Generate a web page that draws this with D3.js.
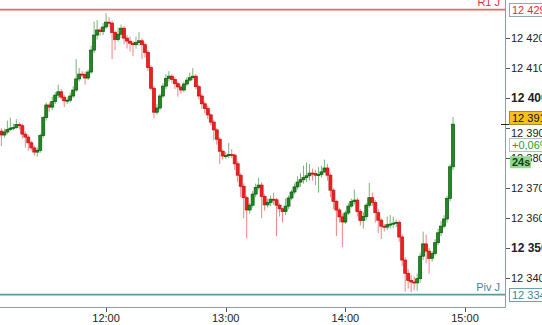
<!DOCTYPE html>
<html>
<head>
<meta charset="utf-8">
<script src="https://cdn.jsdelivr.net/npm/d3@7"></script>
<style>
  body { margin: 0; background: #fff; }
  svg { display: block; font-family: "Liberation Sans", Arial, sans-serif; font-size: 11px; }
</style>
</head>
<body>
<div id="chart"></div>
<script>
// candles, one every 90 seconds starting 11:07:30
var firstCandle = new Date(2020, 0, 1, 11, 7, 30);
var candleSeconds = 90;

var opens = [12389.0, 12387.7, 12388.7, 12389.5, 12390.0, 12390.2, 12391.2, 12390.8, 12388.0, 12387.0,
  12385.1, 12383.4, 12382.0, 12382.6, 12387.5, 12393.5, 12397.7, 12397.0, 12398.9, 12401.0,
  12402.1, 12400.3, 12399.1, 12399.3, 12400.7, 12402.7, 12406.4, 12408.0, 12407.9, 12406.7,
  12408.7, 12416.0, 12421.0, 12422.7, 12422.2, 12423.7, 12425.3, 12425.0, 12421.9, 12419.5,
  12421.3, 12423.3, 12420.0, 12419.0, 12418.3, 12417.8, 12418.5, 12419.1, 12417.8, 12415.2,
  12410.2, 12403.3, 12395.3, 12396.7, 12400.7, 12404.0, 12406.6, 12407.3, 12406.2, 12404.8,
  12403.7, 12402.7, 12404.7, 12406.0, 12406.8, 12407.3, 12403.8, 12400.7, 12398.1, 12396.5,
  12394.4, 12392.0, 12389.4, 12386.3, 12382.3, 12380.7, 12380.8, 12381.2, 12381.0, 12378.1,
  12374.3, 12370.6, 12366.8, 12362.7, 12364.3, 12368.0, 12370.2, 12371.0, 12367.2, 12364.4,
  12365.2, 12366.3, 12366.1, 12364.3, 12363.1, 12362.2, 12364.0, 12366.7, 12368.7, 12370.4,
  12372.0, 12372.8, 12373.5, 12374.1, 12375.0, 12374.9, 12374.3, 12374.5, 12375.4, 12376.7,
  12374.3, 12369.3, 12365.6, 12362.7, 12360.4, 12358.7, 12361.7, 12364.0, 12365.5, 12366.0,
  12362.2, 12359.2, 12360.5, 12364.3, 12366.8, 12365.2, 12361.8, 12359.3, 12357.3, 12357.0,
  12357.8, 12358.0, 12358.3, 12358.6, 12353.7, 12346.0, 12341.6, 12339.2, 12338.7, 12338.4,
  12339.8, 12347.3, 12351.4, 12349.0, 12346.6, 12348.2, 12351.8, 12355.1, 12357.3, 12359.7,
  12366.6, 12377.1];

var highs = [12390.0, 12389.8, 12392.5, 12393.5, 12391.5, 12393.0, 12392.0, 12391.5, 12389.0, 12387.8,
  12385.8, 12384.2, 12383.5, 12388.2, 12394.0, 12398.5, 12398.6, 12400.5, 12402.0, 12404.5,
  12403.0, 12401.0, 12400.2, 12401.8, 12404.0, 12413.0, 12410.0, 12409.0, 12408.8, 12409.5,
  12417.5, 12425.5, 12426.0, 12423.5, 12425.0, 12428.3, 12427.0, 12425.8, 12422.5, 12423.5,
  12424.5, 12424.0, 12421.0, 12420.5, 12419.0, 12420.5, 12422.0, 12420.0, 12418.5, 12416.0,
  12411.0, 12404.0, 12398.0, 12401.5, 12405.0, 12408.0, 12409.0, 12408.0, 12407.0, 12405.5,
  12404.5, 12405.5, 12407.0, 12408.5, 12410.0, 12408.0, 12404.5, 12401.5, 12399.0, 12397.5,
  12395.0, 12392.8, 12390.0, 12387.0, 12383.0, 12382.0, 12385.0, 12383.0, 12381.5, 12379.0,
  12375.0, 12371.5, 12367.5, 12365.0, 12369.0, 12371.5, 12373.5, 12372.0, 12368.0, 12366.5,
  12367.5, 12368.5, 12366.8, 12365.0, 12363.5, 12366.5, 12367.5, 12369.5, 12371.5, 12374.0,
  12375.0, 12377.5, 12378.5, 12378.0, 12376.5, 12376.0, 12377.0, 12377.5, 12379.5, 12378.0,
  12375.0, 12370.0, 12366.0, 12363.5, 12361.5, 12362.5, 12365.0, 12366.5, 12369.5, 12366.8,
  12363.0, 12362.0, 12365.0, 12371.7, 12368.5, 12366.0, 12363.0, 12360.0, 12358.0, 12360.5,
  12361.0, 12360.5, 12359.5, 12359.2, 12354.5, 12347.0, 12343.0, 12341.0, 12340.5, 12341.5,
  12348.5, 12355.5, 12354.5, 12350.0, 12349.0, 12353.0, 12356.5, 12359.0, 12361.0, 12367.5,
  12378.0, 12393.7];

var lows = [12384.0, 12386.8, 12388.0, 12389.0, 12389.2, 12389.8, 12389.5, 12386.5, 12383.5, 12382.5,
  12382.6, 12380.8, 12380.5, 12381.8, 12386.8, 12392.5, 12395.5, 12396.0, 12398.0, 12400.0,
  12399.5, 12397.0, 12398.0, 12398.5, 12400.0, 12402.0, 12405.5, 12406.8, 12404.5, 12406.0,
  12408.0, 12415.0, 12419.5, 12420.8, 12421.0, 12423.0, 12423.8, 12413.0, 12416.0, 12418.8,
  12420.0, 12418.0, 12416.5, 12415.5, 12414.0, 12416.5, 12417.5, 12413.0, 12413.5, 12409.0,
  12402.5, 12393.3, 12394.5, 12396.0, 12400.0, 12403.0, 12405.5, 12405.0, 12403.0, 12400.5,
  12401.5, 12402.0, 12404.0, 12405.5, 12406.0, 12403.0, 12399.5, 12396.5, 12395.0, 12393.0,
  12391.0, 12386.0, 12384.5, 12378.0, 12379.5, 12379.8, 12380.0, 12380.0, 12376.0, 12372.0,
  12367.0, 12360.0, 12353.3, 12361.5, 12363.5, 12367.0, 12369.5, 12360.0, 12362.5, 12363.5,
  12364.0, 12364.5, 12354.0, 12360.5, 12358.5, 12361.0, 12363.0, 12366.0, 12368.0, 12369.5,
  12370.5, 12371.5, 12372.0, 12372.5, 12372.5, 12371.0, 12368.5, 12373.5, 12375.0, 12372.5,
  12367.0, 12363.0, 12354.0, 12358.5, 12350.3, 12358.0, 12361.0, 12363.5, 12364.5, 12360.5,
  12357.5, 12356.5, 12359.5, 12363.5, 12364.0, 12358.5, 12355.0, 12353.0, 12355.5, 12356.0,
  12356.5, 12356.8, 12357.0, 12352.0, 12344.0, 12335.5, 12336.5, 12335.3, 12336.0, 12335.8,
  12338.5, 12346.0, 12345.0, 12341.5, 12345.5, 12347.5, 12351.0, 12354.0, 12356.5, 12358.5,
  12365.5, 12376.0];

var closes = [12387.7, 12388.7, 12389.5, 12390.0, 12390.2, 12391.2, 12390.8, 12388.0, 12387.0, 12385.1,
  12383.4, 12382.0, 12382.6, 12387.5, 12393.5, 12397.7, 12397.0, 12398.9, 12401.0, 12402.1,
  12400.3, 12399.1, 12399.3, 12400.7, 12402.7, 12406.4, 12408.0, 12407.9, 12406.7, 12408.7,
  12416.0, 12421.0, 12422.7, 12422.2, 12423.7, 12425.3, 12425.0, 12421.9, 12419.5, 12421.3,
  12423.3, 12420.0, 12419.0, 12418.3, 12417.8, 12418.5, 12419.1, 12417.8, 12415.2, 12410.2,
  12403.3, 12395.3, 12396.7, 12400.7, 12404.0, 12406.6, 12407.3, 12406.2, 12404.8, 12403.7,
  12402.7, 12404.7, 12406.0, 12406.8, 12407.3, 12403.8, 12400.7, 12398.1, 12396.5, 12394.4,
  12392.0, 12389.4, 12386.3, 12382.3, 12380.7, 12380.8, 12381.2, 12381.0, 12378.1, 12374.3,
  12370.6, 12366.8, 12362.7, 12364.3, 12368.0, 12370.2, 12371.0, 12367.2, 12364.4, 12365.2,
  12366.3, 12366.1, 12364.3, 12363.1, 12362.2, 12364.0, 12366.7, 12368.7, 12370.4, 12372.0,
  12372.8, 12373.5, 12374.1, 12375.0, 12374.9, 12374.3, 12374.5, 12375.4, 12376.7, 12374.3,
  12369.3, 12365.6, 12362.7, 12360.4, 12358.7, 12361.7, 12364.0, 12365.5, 12366.0, 12362.2,
  12359.2, 12360.5, 12364.3, 12366.8, 12365.2, 12361.8, 12359.3, 12357.3, 12357.0, 12357.8,
  12358.0, 12358.3, 12358.6, 12353.7, 12346.0, 12341.6, 12339.2, 12338.7, 12338.4, 12339.8,
  12347.3, 12351.4, 12349.0, 12346.6, 12348.2, 12351.8, 12355.1, 12357.3, 12359.7, 12366.6,
  12377.1, 12391.3];

// axis ticks
var priceTicks = [12420, 12410, 12400, 12390, 12380, 12370, 12360, 12350, 12340];
var boldTicks = [12400, 12350];
var timeTicks = [new Date(2020, 0, 1, 12, 0), new Date(2020, 0, 1, 13, 0),
  new Date(2020, 0, 1, 14, 0), new Date(2020, 0, 1, 15, 0)];

// levels and right side tags
var r1Level = 12429.5, r1Name = "R1 J";
var pivLevel = 12334.5, pivName = "Piv J";
var lastPrice = 12391.3;
var changeLabel = "+0,06%";
var timerLabel = "24s";

var W = 542, H = 325;
var plot = {left: 0, right: 505, top: 0, bottom: 307};

var fmt = d3.formatLocale({decimal: ",", thousands: " ", grouping: [3], currency: ["", ""]}).format(",d");

var candles = closes.map(function(c, i){
  return {
    t: new Date(firstCandle.getTime() + i * candleSeconds * 1000),
    o: opens[i], h: highs[i], l: lows[i], c: c
  };
});

var x = d3.scaleTime()
  .domain([new Date(2020, 0, 1, 11, 6, 48), new Date(2020, 0, 1, 15, 20, 3)])
  .range([plot.left, plot.right]);

var y = d3.scaleLinear()
  .domain([12330.7, 12432.7])
  .range([306, 0]);

var svg = d3.select("#chart").append("svg")
  .attr("width", W)
  .attr("height", H);

svg.append("defs").append("clipPath").attr("id", "plotClip")
  .append("rect").attr("x", 0).attr("y", 0).attr("width", plot.right).attr("height", plot.bottom);

var plotG = svg.append("g").attr("clip-path", "url(#plotClip)");

//level lines
plotG.append("line")
  .attr("x1", 0).attr("x2", plot.right)
  .attr("y1", y(r1Level)).attr("y2", y(r1Level))
  .attr("stroke", "#e06a6a").attr("stroke-width", 1.6);

plotG.append("line")
  .attr("x1", 0).attr("x2", plot.right)
  .attr("y1", y(pivLevel)).attr("y2", y(pivLevel))
  .attr("stroke", "#5b9aa0").attr("stroke-width", 1.6);

//candles
var up = function(d){ return d.c >= d.o; };

var candleG = plotG.selectAll(".candle")
  .data(candles)
  .enter().append("g")
  .attr("class", "candle");

candleG.append("line")
  .attr("x1", function(d){ return x(d.t); })
  .attr("x2", function(d){ return x(d.t); })
  .attr("y1", function(d){ return y(d.h); })
  .attr("y2", function(d){ return y(d.l); })
  .attr("stroke", function(d){ return up(d) ? "#4f9a4f" : "#ef5a5a"; })
  .attr("stroke-opacity", 0.75)
  .attr("stroke-width", 1);

candleG.append("rect")
  .attr("x", function(d){ return x(d.t) - 1.5; })
  .attr("width", 3)
  .attr("y", function(d){ return y(Math.max(d.o, d.c)); })
  .attr("height", function(d){ return Math.max(1, Math.abs(y(d.o) - y(d.c))); })
  .attr("fill", function(d){ return up(d) ? "#1f8a1f" : "#f02020"; })
  .attr("stroke", function(d){ return up(d) ? "#0c560c" : "#c01010"; })
  .attr("stroke-width", 0.7);

//frame
svg.append("line")
  .attr("x1", plot.right + 0.5).attr("x2", plot.right + 0.5)
  .attr("y1", 0).attr("y2", plot.bottom + 0.5)
  .attr("stroke", "#8a9ea6");
svg.append("line")
  .attr("x1", 0).attr("x2", plot.right + 0.5)
  .attr("y1", plot.bottom + 0.5).attr("y2", plot.bottom + 0.5)
  .attr("stroke", "#8a9ea6");

//time axis
var xAxisG = svg.append("g");
xAxisG.selectAll("line")
  .data(timeTicks)
  .enter().append("line")
  .attr("x1", function(d){ return Math.round(x(d)) + 0.5; })
  .attr("x2", function(d){ return Math.round(x(d)) + 0.5; })
  .attr("y1", plot.bottom + 1).attr("y2", plot.bottom + 5)
  .attr("stroke", "#555");
xAxisG.selectAll("text")
  .data(timeTicks)
  .enter().append("text")
  .attr("x", function(d){ return x(d); })
  .attr("y", 322)
  .attr("text-anchor", "middle")
  .attr("fill", "#222")
  .text(d3.timeFormat("%H:%M"));

//price axis
var yAxisG = svg.append("g");
yAxisG.selectAll("line")
  .data(priceTicks)
  .enter().append("line")
  .attr("x1", plot.right + 1).attr("x2", plot.right + 5)
  .attr("y1", function(d){ return Math.round(y(d)) + 0.5; })
  .attr("y2", function(d){ return Math.round(y(d)) + 0.5; })
  .attr("stroke", "#555");
yAxisG.selectAll("text")
  .data(priceTicks)
  .enter().append("text")
  .attr("x", 511)
  .attr("y", function(d){ return y(d) + (d == 12390 ? 5 : 0); })
  .attr("dy", "0.36em")
  .attr("fill", "#222")
  .style("font-weight", function(d){ return boldTicks.indexOf(d) >= 0 ? "bold" : "normal"; })
  .style("font-size", function(d){ return boldTicks.indexOf(d) >= 0 ? "12px" : "11px"; })
  .text(function(d){ return fmt(d); });

//tag boxes on the right
function tag(cy, label, textColor, fill, stroke, x0, x1){
  var g = svg.append("g");
  g.append("rect")
    .attr("x", x0 + 0.5).attr("y", Math.round(cy - 7) + 0.5)
    .attr("width", x1 - x0).attr("height", 13)
    .attr("fill", fill).attr("stroke", stroke);
  g.append("text")
    .attr("x", x0 + 3).attr("y", cy)
    .attr("dy", "0.36em")
    .attr("fill", textColor)
    .text(label);
  return g;
}

tag(y(r1Level), fmt(Math.floor(r1Level)), "#e03030", "#fff", "#9aa4a8", 509, 545);
svg.append("text")
  .attr("x", 500).attr("y", y(r1Level) - 4)
  .attr("text-anchor", "end")
  .attr("fill", "#e03030")
  .text(r1Name);

tag(y(pivLevel), fmt(Math.floor(pivLevel)), "#3d8a92", "#fff", "#6aa2a8", 509, 545);
svg.append("text")
  .attr("x", 500).attr("y", y(pivLevel) - 4)
  .attr("text-anchor", "end")
  .attr("fill", "#3d8a92")
  .text(pivName);

//last price
svg.append("line")
  .attr("x1", plot.right - 4).attr("x2", plot.right + 5)
  .attr("y1", Math.round(y(lastPrice)) + 0.5).attr("y2", Math.round(y(lastPrice)) + 0.5)
  .attr("stroke", "#222");
tag(y(lastPrice) - 6, fmt(Math.floor(lastPrice)), "#111", "#f6c21a", "#a08a3a", 509, 545);
tag(y(lastPrice) + 21, changeLabel, "#2e9a2e", "#fff", "#b8c0c4", 509, 545);
svg.append("rect")
  .attr("x", 510).attr("y", y(lastPrice) + 32)
  .attr("width", 21).attr("height", 12)
  .attr("fill", "#8fdc8f");
svg.append("text")
  .attr("x", 512).attr("y", y(lastPrice) + 38)
  .attr("dy", "0.36em")
  .attr("fill", "#1a3a1a")
  .style("font-weight", "bold")
  .text(timerLabel);
</script>
</body>
</html>
